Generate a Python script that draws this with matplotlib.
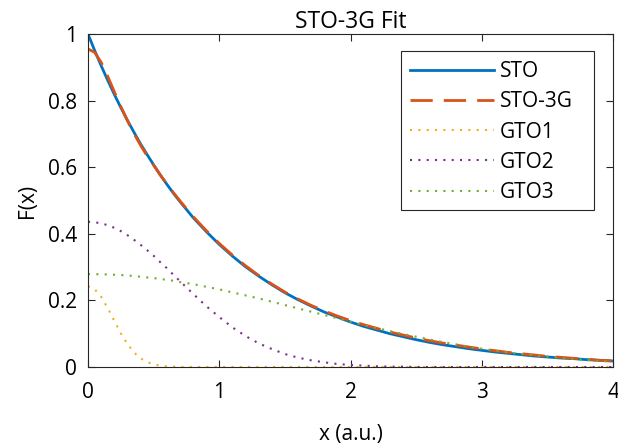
import numpy as np
import matplotlib.pyplot as plt
from matplotlib.patches import Rectangle

plt.rcParams['font.family'] = ['Open Sans', 'DejaVu Sans']

# sample grid: fine near the origin, coarser further out
x = np.round(np.concatenate([np.arange(0, 0.71, 0.05), np.arange(0.8, 4.01, 0.1)]), 2)

sto = [1.000, 0.951, 0.905, 0.861, 0.819, 0.779, 0.741, 0.705, 0.670, 0.638,
       0.607, 0.577, 0.549, 0.522, 0.497,
       0.449, 0.407, 0.368, 0.333, 0.301, 0.273, 0.247, 0.223, 0.202, 0.183,
       0.165, 0.150, 0.135, 0.122, 0.111, 0.100, 0.091, 0.082, 0.074, 0.067,
       0.061, 0.055, 0.050, 0.045, 0.041, 0.037, 0.033, 0.030, 0.027, 0.025,
       0.022, 0.020, 0.018]

sto3g = [0.955, 0.945, 0.915, 0.873, 0.827, 0.782, 0.740, 0.701, 0.666, 0.634,
         0.606, 0.577, 0.550, 0.524, 0.499,
         0.452, 0.410, 0.371, 0.336, 0.304, 0.275, 0.249, 0.225, 0.204, 0.185,
         0.168, 0.153, 0.139, 0.127, 0.116, 0.105, 0.096, 0.087, 0.079, 0.072,
         0.066, 0.060, 0.054, 0.049, 0.044, 0.040, 0.036, 0.032, 0.029, 0.026,
         0.023, 0.020, 0.018]

gto1 = [0.243, 0.234, 0.211, 0.177, 0.139, 0.101, 0.069, 0.044, 0.026, 0.015,
        0.008, 0.004, 0.002, 0.001, 0.000,
        0, 0, 0, 0, 0, 0, 0, 0, 0, 0,
        0, 0, 0, 0, 0, 0, 0, 0, 0, 0,
        0, 0, 0, 0, 0, 0, 0, 0, 0, 0,
        0, 0, 0]

gto2 = [0.436, 0.435, 0.431, 0.426, 0.418, 0.408, 0.396, 0.382, 0.367, 0.351,
        0.334, 0.315, 0.297, 0.277, 0.258,
        0.220, 0.183, 0.150, 0.119, 0.093, 0.071, 0.054, 0.039, 0.028, 0.020,
        0.014, 0.009, 0.006, 0.004, 0.002, 0.001, 0.001, 0, 0, 0,
        0, 0, 0, 0, 0, 0, 0, 0, 0, 0,
        0, 0, 0]

gto3 = [0.279, 0.279, 0.278, 0.278, 0.277, 0.276, 0.275, 0.273, 0.271, 0.269,
        0.267, 0.264, 0.262, 0.259, 0.255,
        0.249, 0.241, 0.233, 0.224, 0.215, 0.206, 0.196, 0.186, 0.176, 0.166,
        0.156, 0.146, 0.136, 0.126, 0.117, 0.108, 0.099, 0.091, 0.083, 0.075,
        0.068, 0.061, 0.055, 0.049, 0.044, 0.039, 0.035, 0.031, 0.027, 0.024,
        0.021, 0.018, 0.016]

fig = plt.figure(figsize=(6.18, 4.47), dpi=100)
ax = fig.add_axes([0.1424, 0.179, 0.8496, 0.745])

ax.plot(x, sto, color='#0072BD', lw=2, label='STO')
ax.plot(x, sto3g, color='#D95319', lw=2, dashes=(8, 4), label='STO-3G')
ax.plot(x, gto1, color='#EDB120', lw=1.5, dashes=(1, 3), label='GTO1')
ax.plot(x, gto2, color='#7E2F8E', lw=1.5, dashes=(1, 3), label='GTO2')
ax.plot(x, gto3, color='#77AC30', lw=1.5, dashes=(1, 3), label='GTO3')

ax.set_xlim(0, 4)
ax.set_ylim(0, 1)
ax.set_xticks([0, 1, 2, 3, 4])
ax.set_yticks([0, 0.2, 0.4, 0.6, 0.8, 1])
ax.set_yticklabels(['0', '0.2', '0.4', '0.6', '0.8', '1'])
ax.tick_params(direction='in', top=True, right=True, length=5, width=0.8,
               color='#262626', labelsize=15)
ax.tick_params(axis='x', pad=11)
ax.tick_params(axis='y', pad=8)
for s in ax.spines.values():
    s.set_color('#262626')
    s.set_linewidth(0.8)

ax.set_title('STO-3G Fit', fontsize=16.5, pad=4)
ax.set_xlabel('x (a.u.)', fontsize=15, labelpad=15)
ax.set_ylabel('F(x)', fontsize=15, labelpad=7)

# legend box drawn separately so the frame can be wider than its contents
ax.add_patch(Rectangle((0.597, 0.471), 0.367, 0.478, transform=ax.transAxes,
                       facecolor='white', edgecolor='#262626', lw=0.8, zorder=4))
ax.legend(loc='upper left', bbox_to_anchor=(0.613, 0.918), fontsize=15,
          frameon=False, handlelength=4.04, handletextpad=0.29,
          labelspacing=0.44, borderpad=0, borderaxespad=0)

fig.savefig('out.png', dpi=100)
